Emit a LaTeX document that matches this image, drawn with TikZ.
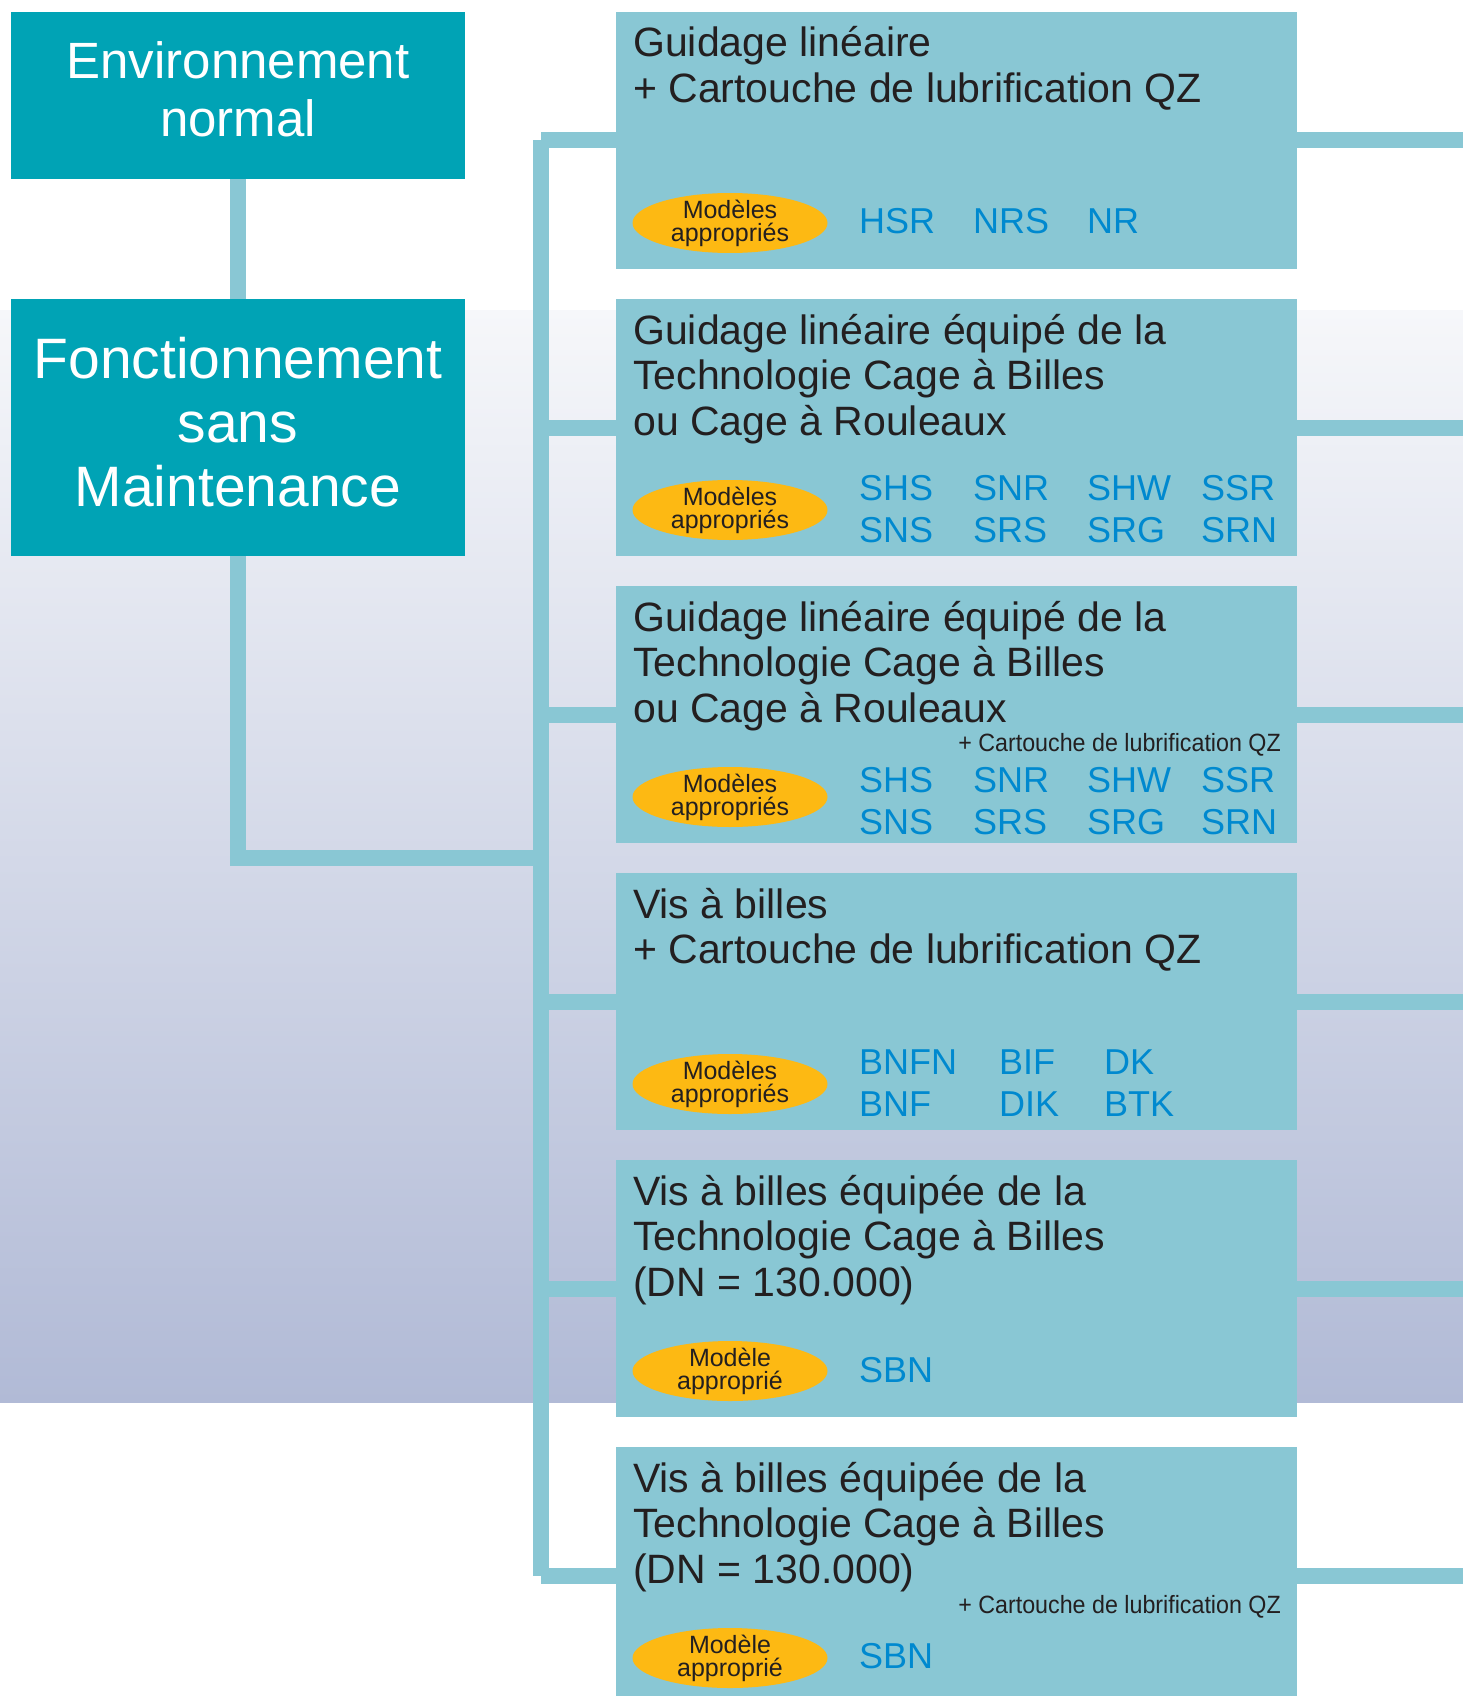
\documentclass[tikz,border=0pt]{standalone}
\usepackage{fontspec}
\setmainfont{Liberation Sans}
\newfontfamily\narrowfont[FakeStretch=0.93]{Liberation Sans}
\usepackage{tikz}
\usetikzlibrary{positioning,calc,shapes.geometric}

\definecolor{headteal}{RGB}{0,163,181}
\definecolor{boxblue}{RGB}{137,199,212}
\definecolor{tagorange}{RGB}{253,185,19}
\definecolor{codeblue}{RGB}{0,137,207}
\definecolor{inkdark}{RGB}{35,31,32}
\definecolor{bgtop}{RGB}{246,247,250}
\definecolor{bgbot}{RGB}{177,186,214}

% multi-line blocks whose baseline is the first line
\newcommand{\leftlines}[1]{\begin{tabular}[t]{@{}l@{}}#1\end{tabular}}
\newcommand{\midlines}[1]{\begin{tabular}[t]{@{}c@{}}#1\end{tabular}}

\begin{document}
\begin{tikzpicture}[
		x=1pt, y=-1pt,
		head/.style={fill=headteal, minimum width=454pt, inner sep=0pt, outer sep=0pt},
		headtxt/.style={anchor=base, inner sep=0pt, text=white},
		panel/.style={fill=boxblue, minimum width=681pt, minimum height=257pt,
				inner sep=0pt, outer sep=0pt},
		title/.style={anchor=base west, inner sep=0pt, text=inkdark,
				font=\fontsize{41}{45.5}\selectfont},
		tag/.style={ellipse, fill=tagorange, minimum width=195pt, minimum height=60pt,
				inner xsep=0pt, inner ysep=-3pt, align=center, text=inkdark,
				font=\fontsize{25}{23}\selectfont},
		codes/.style={anchor=base west, inner sep=0pt, text=codeblue,
				font=\fontsize{36}{42}\selectfont},
		addon/.style={anchor=base east, inner sep=0pt, text=inkdark,
				font=\narrowfont\fontsize{25}{25}\selectfont},
		link/.style={draw=boxblue, line width=16pt}
		]
		\useasboundingbox (0,0) rectangle (1463,1696);
		\clip (0,0) rectangle (1463,1696);
		\shade[top color=bgtop, bottom color=bgbot] (0,310) rectangle (1463,1402);

		% right column of panels
		\node[panel, anchor=north west] (b1) at (616,12) {};
		\node[panel, below=30pt of b1] (b2) {};
		\node[panel, below=30pt of b2] (b3) {};
		\node[panel, below=30pt of b3] (b4) {};
		\node[panel, below=30pt of b4] (b5) {};
		\node[panel, below=30pt of b5] (b6) {};

		% left headers
		\node[head, minimum height=257pt, left=151pt of b2] (fonct) {};
		\node[head, minimum height=167pt, above=120pt of fonct] (env) {};
		\node[headtxt, font=\fontsize{51}{58}\selectfont]
		at ($(env.north)+(0,67)$) {\midlines{Environnement\\normal}};
		\node[headtxt, font=\fontsize{57}{64}\selectfont]
		at ($(fonct.north)+(0,79)$) {\midlines{Fonctionnement\\sans\\Maintenance}};

		% connectors
		\coordinate (tk) at (541,0);
		\coordinate (rim) at (1463,0);
		\coordinate (joint) at (541,858);
		\draw[link] (env) -- (fonct);
		\draw[link] (fonct.south) |- (joint);
		\draw[link, line cap=square] (tk |- b1.west) -- (tk |- b6.west);
		\foreach \b in {b1,b2,b3,b4,b5,b6} {
			\draw[link] (tk |- \b.west) -- (\b.west);
			\draw[link] (\b.east) -- (rim |- \b.east);
		}

		% panel texts
		\node[title] at ($(b1.north west)+(17,45)$)
		{\leftlines{Guidage linéaire\\+ Cartouche de lubrification QZ}};
		\node[tag] at ($(b1.north west)+(114,211)$) {Modèles\\appropriés};
		\node[codes] at ($(b1.north west)+(243,222)$)
		{\begin{tabular}[t]{@{}p{114pt}@{}p{114pt}@{}l@{}}HSR & NRS & NR\end{tabular}};

		\node[title] at ($(b2.north west)+(17,45)$)
		{\leftlines{Guidage linéaire équipé de la\\Technologie Cage à Billes\\ou Cage à Rouleaux}};
		\node[tag] at ($(b2.north west)+(114,211)$) {Modèles\\appropriés};
		\node[codes] at ($(b2.north west)+(243,201)$)
		{\begin{tabular}[t]{@{}p{114pt}@{}p{114pt}@{}p{114pt}@{}l@{}}
				SHS & SNR & SHW & SSR\\ SNS & SRS & SRG & SRN\end{tabular}};

		\node[title] at ($(b3.north west)+(17,45)$)
		{\leftlines{Guidage linéaire équipé de la\\Technologie Cage à Billes\\ou Cage à Rouleaux}};
		\node[addon] at ($(b3.north east)+(-16,165)$) {+ Cartouche de lubrification QZ};
		\node[tag] at ($(b3.north west)+(114,211)$) {Modèles\\appropriés};
		\node[codes] at ($(b3.north west)+(243,206)$)
		{\begin{tabular}[t]{@{}p{114pt}@{}p{114pt}@{}p{114pt}@{}l@{}}
				SHS & SNR & SHW & SSR\\ SNS & SRS & SRG & SRN\end{tabular}};

		\node[title] at ($(b4.north west)+(17,45)$)
		{\leftlines{Vis à billes\\+ Cartouche de lubrification QZ}};
		\node[tag] at ($(b4.north west)+(114,211)$) {Modèles\\appropriés};
		\node[codes] at ($(b4.north west)+(243,201)$)
		{\begin{tabular}[t]{@{}p{140pt}@{}p{105pt}@{}l@{}}
				BNFN & BIF & DK\\ BNF & DIK & BTK\end{tabular}};

		\node[title] at ($(b5.north west)+(17,45)$)
		{\leftlines{Vis à billes équipée de la\\Technologie Cage à Billes\\(DN = 130.000)}};
		\node[tag] at ($(b5.north west)+(114,211)$) {Modèle\\approprié};
		\node[codes] at ($(b5.north west)+(243,222)$) {SBN};

		\node[title] at ($(b6.north west)+(17,45)$)
		{\leftlines{Vis à billes équipée de la\\Technologie Cage à Billes\\(DN = 130.000)}};
		\node[addon] at ($(b6.north east)+(-16,166)$) {+ Cartouche de lubrification QZ};
		\node[tag] at ($(b6.north west)+(114,211)$) {Modèle\\approprié};
		\node[codes] at ($(b6.north west)+(243,221)$) {SBN};
\end{tikzpicture}
\end{document}
